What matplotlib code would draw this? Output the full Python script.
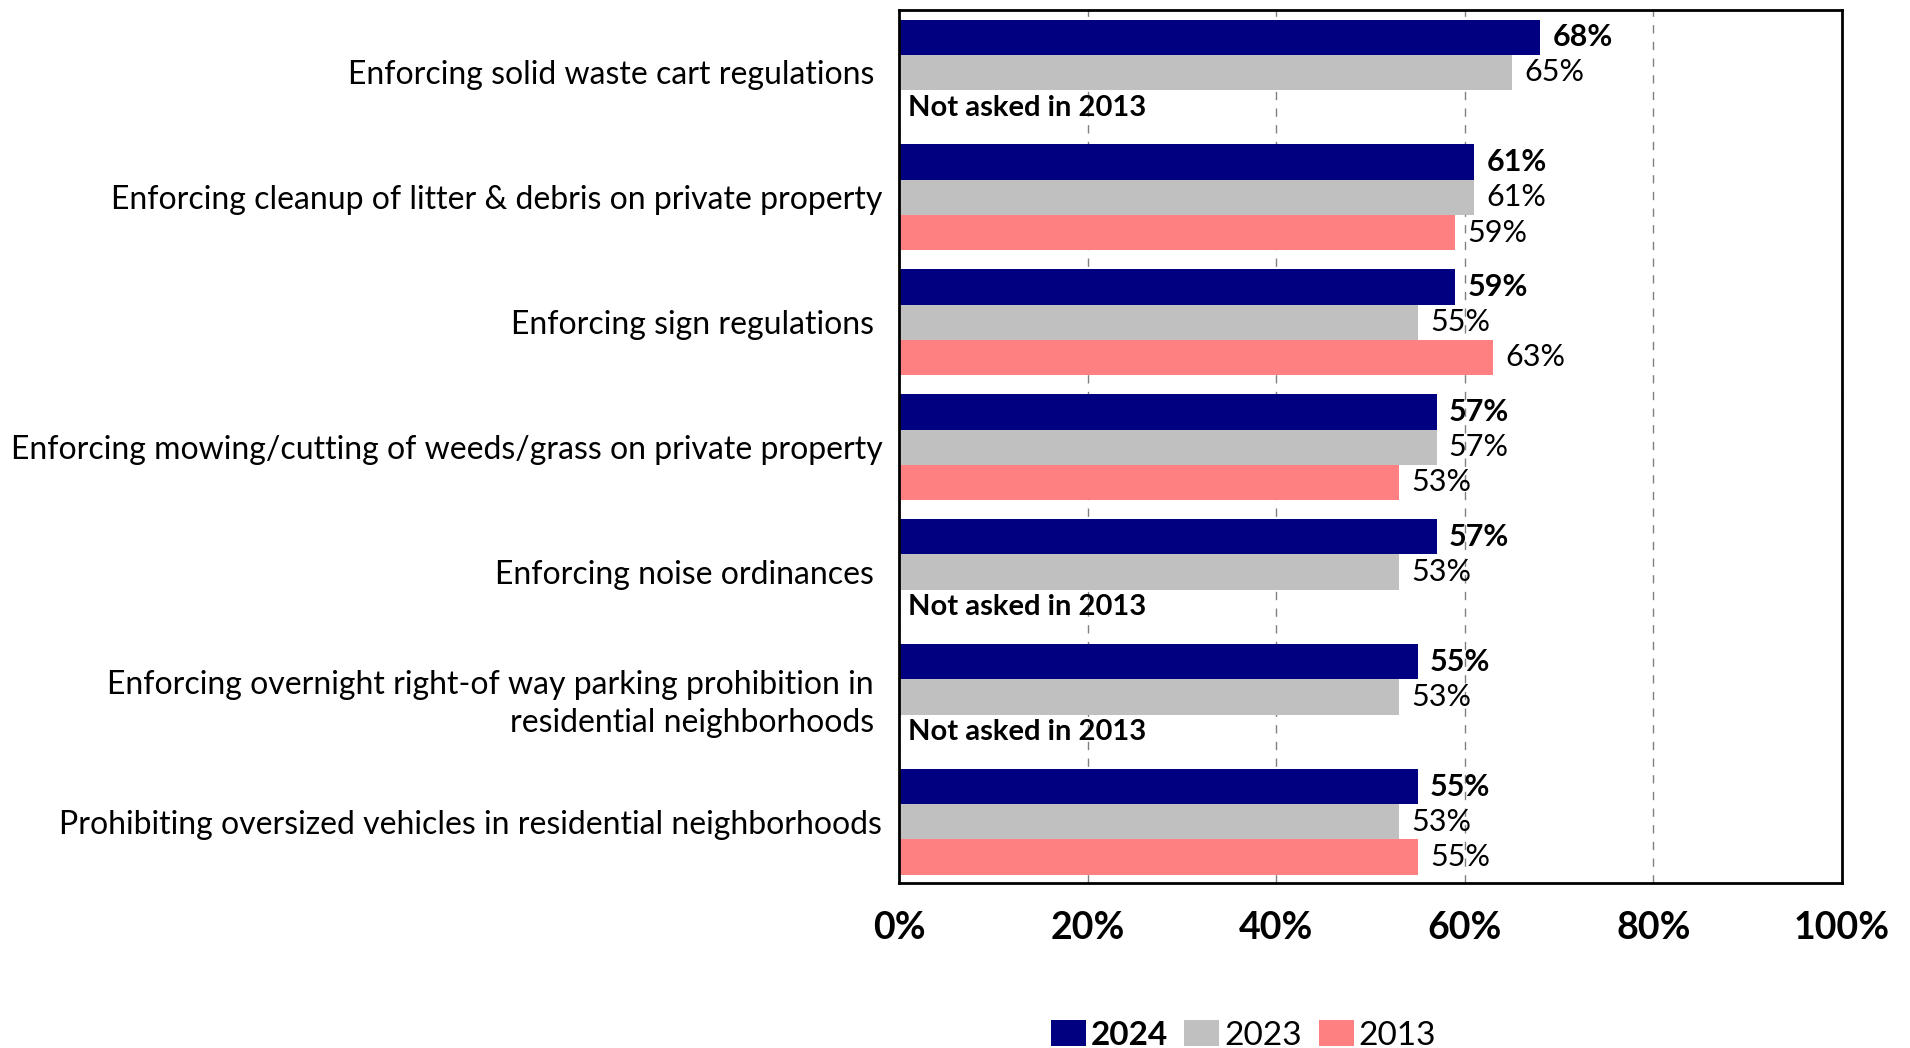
import numpy as np
import matplotlib
matplotlib.use("Agg")
import matplotlib.pyplot as plt
from matplotlib.patches import Patch

plt.rcParams['font.family'] = ['Lato', 'DejaVu Sans']

categories = [
    "Enforcing solid waste cart regulations ",
    "Enforcing cleanup of litter & debris on private property",
    "Enforcing sign regulations ",
    "Enforcing mowing/cutting of weeds/grass on private property",
    "Enforcing noise ordinances ",
    "Enforcing overnight right-of way parking prohibition in \nresidential neighborhoods ",
    "Prohibiting oversized vehicles in residential neighborhoods",
]
vals_2024 = [68, 61, 59, 57, 57, 55, 55]
vals_2023 = [65, 61, 55, 57, 53, 53, 53]
vals_2013 = [None, 59, 63, 53, None, None, 55]

years = ["2024", "2023", "2013"]
colors = ["#000080", "#C0C0C0", "#FF8080"]

fig = plt.figure(figsize=(19.1, 10.48), dpi=100)
ax = fig.add_axes([0.4707, 0.1574, 0.4937, 0.8331])

h = 0.282
y = np.arange(len(categories))
series = [vals_2024, vals_2023, vals_2013]
offsets = [-h, 0, h]

for vals, off, col, yr in zip(series, offsets, colors, years):
    for yi, v in zip(y, vals):
        if v is None:
            if yr == "2013":
                ax.text(1.0, yi + off, "Not asked in 2013", va='center', ha='left',
                        fontsize=21, fontweight='bold', color='black')
            continue
        ax.barh(yi + off, v, height=h, color=col, zorder=2)
        ax.text(v + 1.3, yi + off, f"{v}%", va='center', ha='left', fontsize=22,
                fontweight='bold' if yr == "2024" else 'normal', color='black')

ax.set_xlim(0, 100)
ax.set_ylim(6.49, -0.5)
ax.set_xticks(np.arange(0, 101, 20))
ax.set_xticklabels([f"{t}%" for t in range(0, 101, 20)], fontsize=27, fontweight='bold')
ax.tick_params(axis='x', length=0, pad=20)
ax.set_yticks(y)
ax.set_yticklabels(categories, fontsize=23, linespacing=1.35)
ax.tick_params(axis='y', length=0, pad=12)

ax.xaxis.grid(True, linestyle=(0, (6, 6)), color='#808080', linewidth=1.0, zorder=0)
ax.set_axisbelow(True)
for sp in ax.spines.values():
    sp.set_linewidth(2)
    sp.set_color('black')

handles = [Patch(facecolor=c, edgecolor='none') for c in colors]
leg = fig.legend(handles, years, loc='center', bbox_to_anchor=(0.651, 0.012), ncol=3,
                 frameon=False, fontsize=24, handlelength=1.05, handleheight=0.8,
                 handletextpad=0.15, columnspacing=0.5)
leg.get_texts()[0].set_fontweight('bold')

fig.savefig("out.png", dpi=100)
